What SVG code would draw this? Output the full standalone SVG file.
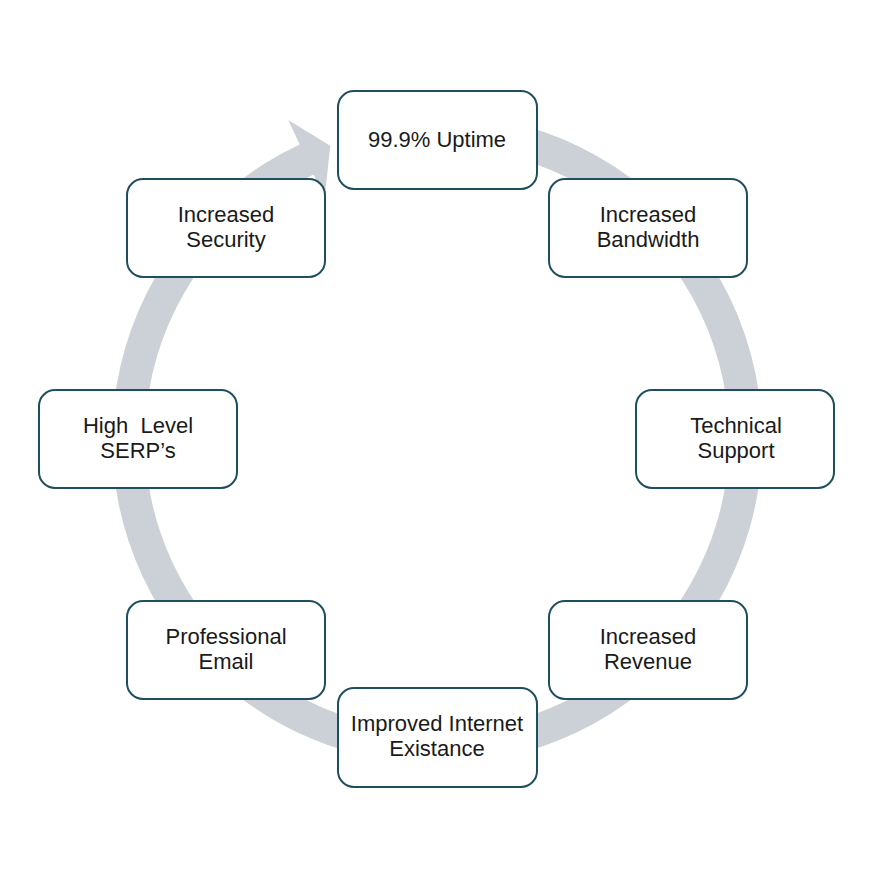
<svg xmlns="http://www.w3.org/2000/svg" width="872" height="872" viewBox="0 0 872 872">
<style>
.box{fill:#ffffff;stroke:#1f4f5e;stroke-width:2}
.t{font-family:"Liberation Sans",Arial,sans-serif;font-size:22px;fill:#1a1a1a;text-anchor:middle}
</style>
<rect width="872" height="872" fill="#ffffff"/>
<g id="connectors">
<path d="M448.3,114.2 A325,325 0 1 1 299.7,144.5 L288.2,120.0 L330.3,145.8 L324.6,197.9 L313.6,174.4 A292,292 0 1 0 447.2,147.2 Z" fill="#ccd0d7"/>
</g>
<g id="uptime"><rect class="box" x="338" y="91" width="199" height="98" rx="16"/><text class="t" x="437" y="147">99.9% Uptime</text></g>
<g id="bandwidth"><rect class="box" x="549" y="179" width="198" height="98" rx="16"/><text class="t" x="648" y="222">Increased</text><text class="t" x="648" y="247">Bandwidth</text></g>
<g id="support"><rect class="box" x="636" y="390" width="198" height="98" rx="16"/><text class="t" x="736" y="433">Technical</text><text class="t" x="736" y="458">Support</text></g>
<g id="revenue"><rect class="box" x="549" y="601" width="198" height="98" rx="16"/><text class="t" x="648" y="644">Increased</text><text class="t" x="648" y="669">Revenue</text></g>
<g id="existance"><rect class="box" x="338" y="688" width="199" height="99" rx="16"/><text class="t" x="437" y="731">Improved Internet</text><text class="t" x="437" y="756">Existance</text></g>
<g id="email"><rect class="box" x="127" y="601" width="198" height="98" rx="16"/><text class="t" x="226" y="644">Professional</text><text class="t" x="226" y="669">Email</text></g>
<g id="serps"><rect class="box" x="39" y="390" width="198" height="98" rx="16"/><text class="t" x="138" y="433" xml:space="preserve">High  Level</text><text class="t" x="138" y="458">SERP’s</text></g>
<g id="security"><rect class="box" x="127" y="179" width="198" height="98" rx="16"/><text class="t" x="226" y="222">Increased</text><text class="t" x="226" y="247">Security</text></g>
</svg>
